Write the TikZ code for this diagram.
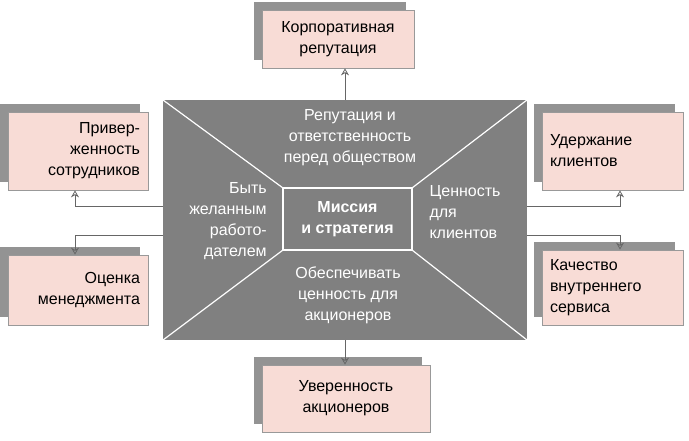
\documentclass[tikz,border=0pt]{standalone}
\usepackage{fontspec}
\setmainfont{Liberation Sans}
\usetikzlibrary{arrows.meta,calc}
\definecolor{pinkbox}{RGB}{248,220,214}
\definecolor{core}{RGB}{128,128,128}
\tikzset{
    goal/.style={draw=gray!80, thick, fill=pinkbox, minimum width=#1, text width=#1-16pt, inner sep=0pt, align=center, font=\fontsize{16}{21}\selectfont},
    goal/.default=145pt,
    link/.style={draw=gray!80!black, thick, -{Stealth[length=7pt,width=8pt,open]}},
    field/.style={text=white, align=center, font=\fontsize{16}{21}\selectfont}
}
\newcommand{\shadowbox}[3]{% corner, width, height
    \fill[gray!85] ($#1+(-8,-8)$) rectangle ++(#2,#3);
}
\begin{document}
\begin{tikzpicture}[x=1pt, y=-1pt]
    \useasboundingbox (0,0) rectangle (689,441);

    % Gray core with diagonals
    \fill[core] (163,100) rectangle (527,340);
    \draw[white, very thick] (163,100) -- (283,188) (527,100) -- (412,188)
        (163,340) -- (283,250) (527,340) -- (412,250);
    \node[draw=white, line width=2pt, fill=core, minimum width=129pt, minimum height=62pt, field, font=\bfseries\fontsize{16}{21}\selectfont] (mission) at (347.5,219) {Миссия\\и стратегия};
    \node[field] (social) at (350,138) {Репутация и\\ответственность\\перед обществом};
    \node[field, align=right] (employer) at (228,221) {Быть\\желанным\\работо-\\дателем};
    \node[field, align=left] (clients) at (465,212) {Ценность\\для\\клиентов};
    \node[field] (owners) at (348,295) {Обеспечивать\\ценность для\\акционеров};

    % Goal boxes
    \shadowbox{(262,10)}{152}{58}
    \node[goal=152pt, minimum height=58pt] (reputation) at (338,39) {Корпоративная\\репутация};
    \shadowbox{(8,112)}{140}{78}
    \node[goal=140pt, minimum height=78pt, align=right] (loyalty) at (78,151) {Привер-\\женность\\сотрудников};
    \shadowbox{(8,255)}{140}{70}
    \node[goal=140pt, minimum height=70pt, align=right] (management) at (78,290) {Оценка\\менеджмента};
    \shadowbox{(542,112)}{141}{78}
    \node[goal=141pt, minimum height=78pt, align=left] (retention) at (612.5,151) {Удержание\\клиентов};
    \shadowbox{(542,250)}{141}{75}
    \node[goal=141pt, minimum height=75pt, align=left] (service) at (612.5,287.5) {Качество\\внутреннего\\сервиса};
    \shadowbox{(262,365)}{168}{67}
    \node[goal=168pt, minimum height=67pt] (investors) at (346,398.5) {Уверенность\\акционеров};

    % Connectors
    \draw[link] (345,100) -- (reputation.south -| 345,0);
    \draw[link] (163,206) -- (75,206) -- (loyalty.south -| 75,0);
    \draw[link] (163,235) -- (75,235) -- (management.north -| 75,0);
    \draw[link] (527,206) -- (620,206) -- (retention.south -| 620,0);
    \draw[link] (527,235) -- (620,235) -- (service.north -| 620,0);
    \draw[link] (345,340) -- (investors.north -| 345,0);
\end{tikzpicture}
\end{document}
